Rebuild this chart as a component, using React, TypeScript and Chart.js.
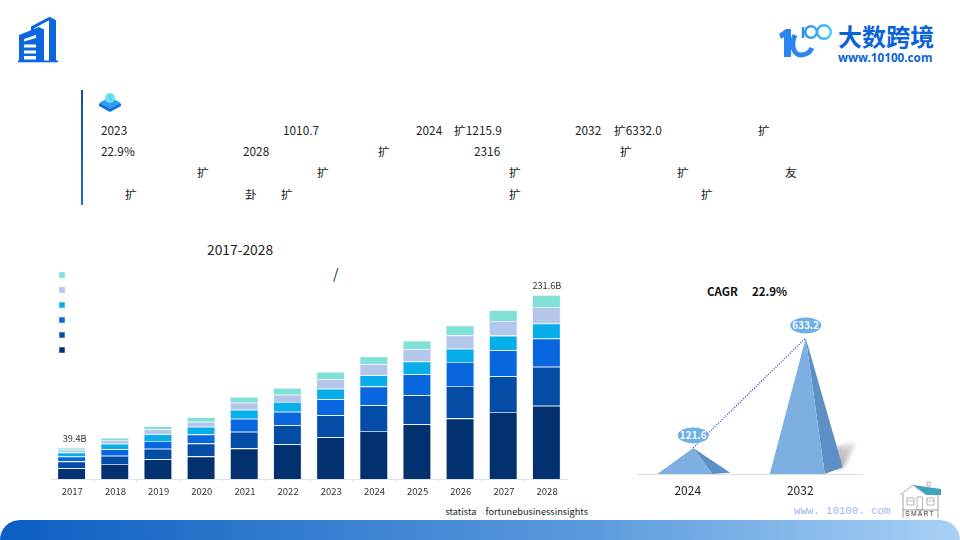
import React, { useEffect, useRef } from "react";
import { Chart, registerables } from "chart.js";

Chart.register(...registerables);

const FONT = '"Noto Sans CJK SC", "Noto Sans", sans-serif';

const years = ["2017","2018","2019","2020","2021","2022","2023","2024","2025","2026","2027","2028"];
const seriesA = [13.7,18.9,24.8,28.5,38.6,43.7,52.5,60.5,68.9,76.4,84.4,92.3];
const seriesB = [8.5,10.5,13.4,16.4,21.0,23.9,27.7,32.3,36.5,40.7,44.9,49.0];
const seriesC = [6.1,8.0,9.7,11.3,16.4,17.2,20.2,23.9,26.5,30.2,32.8,35.7];
const seriesD = [5.1,7.1,8.4,9.7,11.3,12.2,13.4,13.9,16.0,16.8,18.5,18.9];
const seriesE = [3.5,4.6,6.3,6.3,8.8,9.2,11.8,13.9,15.5,16.8,18.5,20.6];
const seriesF = [2.5,2.9,3.8,5.5,7.1,8.4,9.2,9.7,10.9,12.6,13.4,15.1];
const seriesColors = ["#03306f","#054ca6","#0866df","#07aeea","#b4c6ea","#7fe0d6"];
const totalLabels: Record<string,string> = { "2017": "39.4B", "2028": "231.6B" };

const marketYears = ["2024","2032"];
const marketValues = [121.6,633.2];
const marketLabels = ["121.6","633.2"];

type T = [string, number, number];
const bodyTexts: T[] = [
  ["2023",101,129.5],["1010.7",283,129.5],["2024",416,129.5],["扩1215.9",454,129.5],["2032",575,129.5],["扩6332.0",614,129.5],["扩",758,129.5],
  ["22.9%",101,150.3],["2028",243,150.3],["扩",378,150.3],["2316",474,150.3],["扩",620,150.3],
  ["扩",197,171.5],["扩",317,171.5],["扩",509,171.5],["扩",677,171.5],["友",785,171.5],
  ["扩",125,193.3],["卦",245,193.3],["扩",281,193.3],["扩",509,193.3],["扩",701,193.3],
];

const barTotals = {
  id: "barTotals",
  afterDatasetsDraw(chart: any) {
    const { ctx } = chart;
    const last = chart.getDatasetMeta(chart.data.datasets.length - 1);
    ctx.save();
    ctx.font = `9.2px ${FONT}`;
    ctx.fillStyle = "#333";
    ctx.textAlign = "center";
    ctx.textBaseline = "middle";
    years.forEach((y, i) => {
      if (totalLabels[y]) {
        const el = last.data[i];
        ctx.fillText(totalLabels[y], el.x + (i === 0 ? 3 : 0.5), el.y - 9.5);
      }
    });
    ctx.restore();
  },
};

const pyramids = {
  id: "pyramids",
  beforeDatasetsDraw(chart: any) {
    const { ctx } = chart;
    const meta = chart.getDatasetMeta(0);
    meta.data.forEach((el: any) => {
      const x = el.x, top = el.y, base = el.base;
      const lift = (base - top) * 0.05;
      if (base - top > 60) {
        ctx.save();
        ctx.filter = "blur(2px)";
        const g = ctx.createLinearGradient(x + 30, base, x + 50, base - 30);
        g.addColorStop(0, "#9a9a9a");
        g.addColorStop(1, "#e4e4e4");
        ctx.fillStyle = g;
        ctx.beginPath();
        ctx.moveTo(x + 30, base - 28);
        ctx.lineTo(x + 50, base - 31);
        ctx.lineTo(x + 38, base - 7);
        ctx.lineTo(x + 30, base - 4);
        ctx.closePath();
        ctx.fill();
        ctx.restore();
      }
      ctx.fillStyle = "#5d90c4";
      ctx.beginPath();
      ctx.moveTo(x, top);
      ctx.lineTo(x + 19, base);
      ctx.lineTo(x + 37, base - lift);
      ctx.closePath();
      ctx.fill();
      ctx.fillStyle = "#7dafe0";
      ctx.beginPath();
      ctx.moveTo(x, top);
      ctx.lineTo(x - 36, base);
      ctx.lineTo(x + 19, base);
      ctx.closePath();
      ctx.fill();
    });
  },
  afterDatasetsDraw(chart: any) {
    const { ctx } = chart;
    const meta = chart.getDatasetMeta(0);
    meta.data.forEach((el: any, i: number) => {
      const cy = el.y - 12.5;
      ctx.fillStyle = "#6fb0e6";
      ctx.beginPath();
      ctx.ellipse(el.x, cy, 15.5, 8, 0, 0, Math.PI * 2);
      ctx.fill();
      ctx.font = `bold 10px ${FONT}`;
      ctx.fillStyle = "#fff";
      ctx.textAlign = "center";
      ctx.textBaseline = "middle";
      ctx.fillText(marketLabels[i], el.x, cy);
    });
  },
};

function useChart(make: (c: HTMLCanvasElement) => Chart) {
  const ref = useRef<HTMLCanvasElement>(null);
  useEffect(() => {
    const chart = make(ref.current!);
    return () => chart.destroy();
  }, []);
  return ref;
}

const abs = (left: number, top: number, extra: React.CSSProperties = {}): React.CSSProperties => ({
  position: "absolute", left, top, whiteSpace: "nowrap", ...extra,
});

function Txt({ t, x, cy, size = 12, color = "#222", weight = 400, font = FONT, spacing = 0 }: any) {
  return (
    <span style={abs(x, cy - size, { fontFamily: font, fontSize: size, lineHeight: `${size * 2}px`, color, fontWeight: weight, letterSpacing: spacing })}>
      {t}
    </span>
  );
}

function Building() {
  return (
    <svg style={abs(14, 12)} width="50" height="55" viewBox="14 12 50 55">
      <path d="M32.5 33 V27.5 L49.5 18.5 L54 21 V60" fill="none" stroke="#0b66e0" strokeWidth="3" />
      <rect x="49" y="20" width="7" height="41" fill="#0b66e0" />
      <path d="M19 35 L39 27 L44 29.5 V61 H19 Z" fill="#0b66e0" />
      <g fill="#fff">
        <path d="M24 39 L36 35 V38 L24 41.5 Z" />
        <rect x="24" y="44.5" width="12" height="3" />
        <rect x="24" y="50.5" width="12" height="3" />
        <rect x="24" y="56" width="12" height="3.5" />
      </g>
      <rect x="18" y="60.5" width="40" height="1.8" fill="#0b66e0" />
    </svg>
  );
}

function BookIcon() {
  return (
    <svg style={abs(97, 91)} width="26" height="22" viewBox="0 0 26 22">
      <path d="M2 13 L13 7 L24 13 L24 15 L13 21 L2 15 Z" fill="#0f6fd8" />
      <path d="M2 12 L13 6 L24 12 L13 18 Z" fill="#2e9bf5" />
      <circle cx="13" cy="7" r="5" fill="#66e3f7" />
      <path d="M13 4 V8 L15 9" stroke="#3aa7d8" strokeWidth="0.8" fill="none" />
    </svg>
  );
}

function Logo() {
  return (
    <>
      <svg style={abs(776, 18)} width="64" height="46" viewBox="776 18 64 46">
        <defs>
          <linearGradient id="rings" gradientUnits="userSpaceOnUse" x1="800" x2="834" y1="32" y2="32">
            <stop offset="0" stopColor="#2a86ee" />
            <stop offset="1" stopColor="#45d0f5" />
          </linearGradient>
        </defs>
        <path d="M779 34 L786 29 L791 29 L791 57 L784 57 L784 37 L781 39 Z" fill="#2a86ee" />
        <path d="M795 35 C 790 45, 794 55, 801 55 C 806 55, 810 52, 812 48" stroke="#2a86ee" strokeWidth="5" fill="none" />
        <g fill="none" stroke="url(#rings)" strokeWidth="2.4">
          <circle cx="811" cy="32" r="5.8" />
          <circle cx="824" cy="32" r="6.8" />
          <path d="M803 38 V27" />
        </g>
      </svg>
      <Txt t="大数跨境" x={838} cy={35.5} size={24} color="#0b63d6" weight={700} spacing={0.1} />
      <Txt t="www.10100.com" x={838} cy={57.5} size={11.7} color="#0b63d6" weight={700} font='"Noto Sans", sans-serif' />
    </>
  );
}

function House() {
  return (
    <svg style={abs(895, 480)} width="50" height="42" viewBox="895 480 50 42">
      <path d="M900 495 L913 485 L926 495" fill="none" stroke="#888" strokeWidth="0.7" />
      <path d="M913 485 L941 489 L941 495 L927 495 Z" fill="#3fa3bd" />
      <rect x="927" y="482" width="3" height="4" fill="none" stroke="#888" strokeWidth="0.6" />
      <path d="M903 494 V510 M938 495 V510 M903 510 H938" fill="none" stroke="#777" strokeWidth="0.7" />
      <path d="M903 510 V518 M938 510 V518" fill="none" stroke="#777" strokeWidth="0.7" />
      <rect x="907" y="498" width="7" height="7" fill="none" stroke="#888" strokeWidth="0.6" />
      <path d="M907 501 H914 M927 501 H934" stroke="#888" strokeWidth="0.5" />
      <rect x="927" y="498" width="7" height="7" fill="none" stroke="#888" strokeWidth="0.6" />
      <rect x="917" y="497" width="5.5" height="13" fill="none" stroke="#888" strokeWidth="0.6" />
      <text x="920" y="516" textAnchor="middle" fontSize="6.6" letterSpacing="1.3" fill="#333" fontFamily="Liberation Sans">SMART</text>
    </svg>
  );
}

export default function App() {
  const barRef = useChart((c) => new Chart(c, {
    type: "bar",
    plugins: [barTotals],
    data: {
      labels: years,
      datasets: [seriesA, seriesB, seriesC, seriesD, seriesE, seriesF].map((data, i) => ({
        label: "",
        data,
        backgroundColor: seriesColors[i],
        borderColor: "#e4eefa",
        borderWidth: 0.8,
        barPercentage: 0.66,
        categoryPercentage: 1,
      })),
    },
    options: {
      animation: false,
      responsive: false,
      layout: { padding: 0 },
      plugins: {
        tooltip: { enabled: false },
        title: { display: false },
        legend: {
          display: true,
          position: "chartArea",
          align: "start",
          reverse: true,
          labels: { boxWidth: 6, boxHeight: 6, padding: 9, font: { size: 6 }, generateLabels: (ch: any) =>
            ch.data.datasets.map((d: any, i: number) => ({
              text: "", fillStyle: d.backgroundColor, strokeStyle: "#e2eaf6", lineWidth: 0.6, datasetIndex: i, hidden: false,
            })) },
        },
      },
      scales: {
        x: {
          stacked: true,
          border: { color: "#dfe3e8", width: 1 },
          grid: { drawOnChartArea: false, drawTicks: true, tickLength: 3, color: "#dfe3e8", offset: true },
          ticks: { color: "#333", font: { size: 9.5, family: FONT }, padding: 4, labelOffset: 0.7, maxRotation: 0, autoSkip: false },
          afterFit: (s: any) => { s.height = 21; },
        },
        y: { stacked: true, display: false, min: 0, max: 272 },
      },
    },
  } as any));

  const pyrRef = useChart((c) => new Chart(c, {
    type: "bar",
    plugins: [pyramids],
    data: {
      labels: marketYears,
      datasets: [
        { type: "bar", data: marketValues, backgroundColor: "rgba(0,0,0,0)", borderWidth: 0 },
        { type: "line", data: marketValues, borderColor: "#1d3f9c", borderWidth: 1.2, borderDash: [1, 1.5], pointRadius: 0, tension: 0, order: -1 },
      ],
    },
    options: {
      animation: false,
      responsive: false,
      layout: { padding: 0 },
      plugins: { legend: { display: false }, tooltip: { enabled: false } },
      scales: {
        x: {
          border: { color: "#dfdfdf", width: 1 },
          grid: { display: false },
          ticks: { color: "#222", font: { size: 12, family: FONT }, padding: 1, labelOffset: -5.5, maxRotation: 0 },
          afterFit: (s: any) => { s.height = 26; },
        },
        y: { display: false, min: 0, max: 810 },
      },
    },
  } as any));

  return (
    <div style={{ position: "absolute", left: 0, top: 0, width: 960, height: 540, overflow: "hidden", background: "#fff" }}>
      <Building />
      <Logo />
      <div style={abs(81, 90, { width: 2, height: 115, background: "linear-gradient(#174a94,#1b6fd6)" })} />
      <BookIcon />
      {bodyTexts.map(([t, x, y], i) => <Txt key={i} t={t} x={x} cy={y} size={11.8} />)}

      <Txt t="2017-2028" x={207} cy={250} size={13.8} />
      <Txt t="/" x={333} cy={273} size={14} />
      <canvas ref={barRef} width={518} height={237} style={abs(50, 263, { width: 518, height: 237 })} />

      <Txt t="CAGR" x={707} cy={291.5} size={11.5} color="#111" weight={700} />
      <Txt t="22.9%" x={752} cy={291.5} size={11.5} color="#111" weight={700} />
      <canvas ref={pyrRef} width={225} height={200} style={abs(637, 300, { width: 225, height: 200 })} />

      <Txt t="statista" x={445.5} cy={511.5} size={9.2} />
      <Txt t="fortunebusinessinsights" x={485.5} cy={511.5} size={9.2} />
      <Txt t="www. 10100. com" x={794} cy={512} size={10.7} color="#9db8e8" font='"Liberation Mono", monospace' />
      <House />
      <div style={abs(0, 520, { width: 960, height: 20, borderRadius: "20px 20px 0 0", background: "linear-gradient(90deg,#0b5ec2,#5b9bdd 62%,#a9d1f5)" })} />
    </div>
  );
}
